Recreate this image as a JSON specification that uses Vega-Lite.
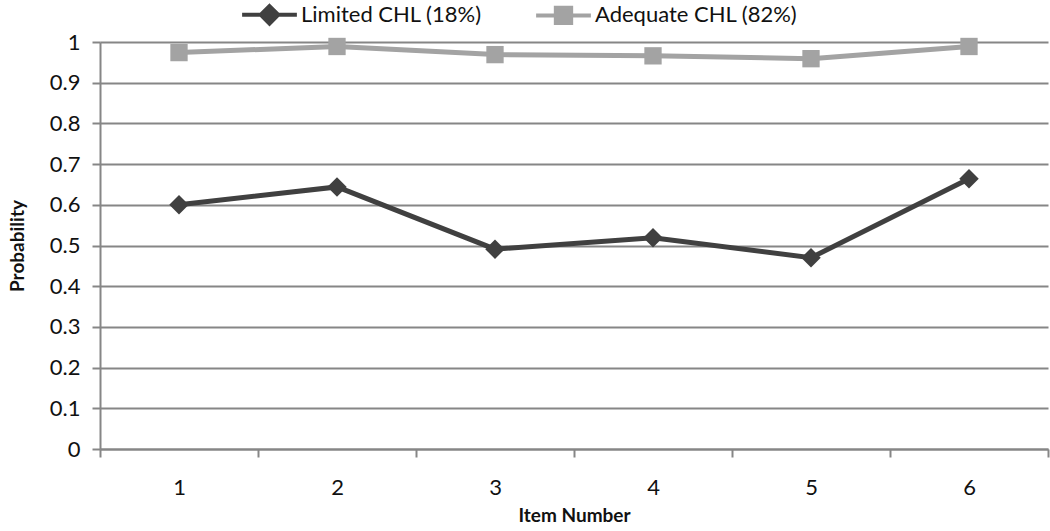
{
  "$schema": "https://vega.github.io/schema/vega-lite/v6.json",
  "autosize": "none",
  "width": 948,
  "height": 407,
  "padding": {"left": 100, "top": 42, "right": 2, "bottom": 82},
  "background": "white",
  "config": {
    "font": "Lato",
    "view": {"stroke": null}
  },
  "data": {
    "values": [
      {"item": "1", "group": "Limited CHL (18%)", "p": 0.600},
      {"item": "2", "group": "Limited CHL (18%)", "p": 0.644},
      {"item": "3", "group": "Limited CHL (18%)", "p": 0.491},
      {"item": "4", "group": "Limited CHL (18%)", "p": 0.519},
      {"item": "5", "group": "Limited CHL (18%)", "p": 0.470},
      {"item": "6", "group": "Limited CHL (18%)", "p": 0.664},
      {"item": "1", "group": "Adequate CHL (82%)", "p": 0.974},
      {"item": "2", "group": "Adequate CHL (82%)", "p": 0.989},
      {"item": "3", "group": "Adequate CHL (82%)", "p": 0.969},
      {"item": "4", "group": "Adequate CHL (82%)", "p": 0.966},
      {"item": "5", "group": "Adequate CHL (82%)", "p": 0.959},
      {"item": "6", "group": "Adequate CHL (82%)", "p": 0.989}
    ]
  },
  "encoding": {
    "x": {
      "field": "item", "type": "ordinal",
      "scale": {"type": "band", "paddingInner": 0, "paddingOuter": 0},
      "axis": {
        "title": "Item Number", "labelAngle": 0, "tickBand": "extent",
        "grid": false, "domainColor": "#868686", "domainWidth": 2,
        "tickColor": "#868686", "tickWidth": 2, "tickSize": 8,
        "labelFontSize": 22, "labelColor": "#111", "labelPadding": 20,
        "titleFontSize": 19, "titleFontWeight": "bold", "titleColor": "#111",
        "titlePadding": 8
      }
    },
    "y": {
      "field": "p", "type": "quantitative",
      "scale": {"domain": [0, 1], "nice": false},
      "axis": {
        "title": "Probability", "values": [0, 0.1, 0.2, 0.3, 0.4, 0.5, 0.6, 0.7, 0.8, 0.9, 1],
        "format": ".1~f",
        "grid": true, "gridColor": "#868686", "gridWidth": 2,
        "domainColor": "#868686", "domainWidth": 2,
        "tickColor": "#868686", "tickWidth": 2, "tickSize": 8,
        "labelFontSize": 22, "labelColor": "#111", "labelPadding": 12,
        "titleFontSize": 19, "titleFontWeight": "bold", "titleColor": "#111",
        "titlePadding": 22
      }
    },
    "color": {
      "field": "group", "type": "nominal",
      "scale": {"domain": ["Limited CHL (18%)", "Adequate CHL (82%)"], "range": ["#404040", "#a3a3a3"]},
      "legend": {
        "title": null, "orient": "none", "direction": "horizontal",
        "legendX": 140, "legendY": -57,
        "labelFontSize": 22, "labelColor": "#111", "labelLimit": 0,
        "symbolSize": 3000, "symbolType": "M-1,0H1M0,-0.3L0.3,0L0,0.3L-0.3,0Z",
        "symbolStrokeWidth": 4, "columnPadding": 46, "labelOffset": 2,
        "encode": {
          "symbols": {
            "update": {
              "shape": {"signal": "datum.value === 'Limited CHL (18%)' ? 'M-1,0H1M0,-0.32L0.32,0L0,0.32L-0.32,0Z' : 'M-1,0H1M-0.28,-0.28H0.28V0.28H-0.28Z'"},
              "fill": {"signal": "datum.value === 'Limited CHL (18%)' ? '#404040' : '#a3a3a3'"},
              "stroke": {"signal": "datum.value === 'Limited CHL (18%)' ? '#404040' : '#a3a3a3'"},
              "strokeWidth": {"value": 4},
              "opacity": {"value": 1}
            }
          }
        }
      }
    }
  },
  "layer": [
    {"mark": {"type": "line", "strokeWidth": 5}},
    {
      "transform": [{"filter": "datum.group === 'Limited CHL (18%)'"}],
      "mark": {"type": "point", "filled": true, "opacity": 1, "size": 380, "shape": "diamond"}
    },
    {
      "transform": [{"filter": "datum.group === 'Adequate CHL (82%)'"}],
      "mark": {"type": "point", "filled": true, "opacity": 1, "size": 300, "shape": "square"}
    }
  ]
}
